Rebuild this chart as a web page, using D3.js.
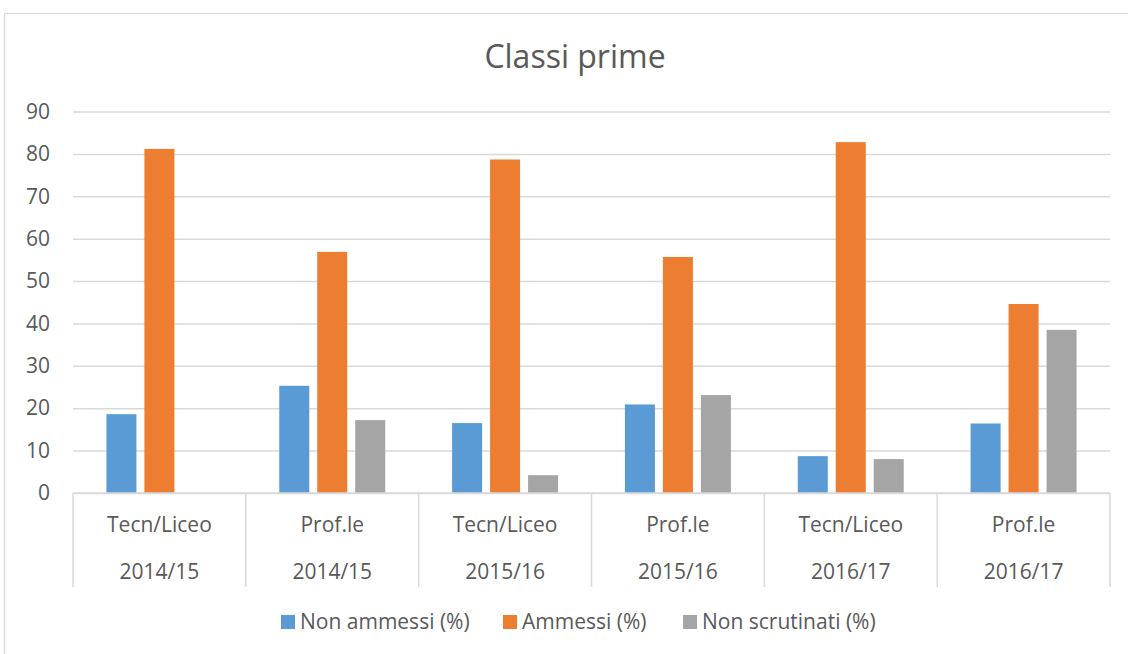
<!DOCTYPE html>
<html>
<head>
<meta charset="utf-8">
<script src="https://cdn.jsdelivr.net/npm/d3@7"></script>
<style>
  body { margin: 0; background: #fff; }
  text { font-family: "Open Sans", sans-serif; fill: #595959; }
</style>
</head>
<body>
<div id="chart"></div>
<script>
// categorie (due livelli)
var tipi = ["Tecn/Liceo", "Prof.le", "Tecn/Liceo", "Prof.le", "Tecn/Liceo", "Prof.le"];
var anni = ["2014/15", "2014/15", "2015/16", "2015/16", "2016/17", "2016/17"];

var serie = ["Non ammessi (%)", "Ammessi (%)", "Non scrutinati (%)"];
var nonAmmessi = [18.6, 25.3, 16.5, 20.9, 8.7, 16.4];
var ammessi = [81.2, 56.9, 78.7, 55.7, 82.8, 44.6];
var nonScrutinati = [0, 17.2, 4.2, 23.1, 8.0, 38.5];
var yTicks = [0, 10, 20, 30, 40, 50, 60, 70, 80, 90];

var colori = ["#5b9bd5", "#ed7d31", "#a5a5a5"];

var width = 1128, height = 654;
var plotLeft = 73, plotRight = 1110, plotTop = 111.6, plotBottom = 493;

var svg = d3.select("#chart").append("svg")
  .attr("width", width)
  .attr("height", height);

// bordo del grafico
svg.append("rect")
  .attr("x", 4.5).attr("y", 13.5)
  .attr("width", 1200).attr("height", 700)
  .attr("fill", "#fff")
  .attr("stroke", "#d9d9d9")
  .attr("stroke-width", 1.3);

svg.append("text")
  .attr("x", 575).attr("y", 68)
  .attr("text-anchor", "middle")
  .style("font-size", "32px")
  .text("Classi prime");

var idx = d3.range(tipi.length);
var x0 = d3.scaleBand().domain(idx).range([plotLeft, plotRight]);
var x1 = d3.scaleBand().domain(d3.range(serie.length))
  .range([0, x0.bandwidth()])
  .paddingInner(0.21)
  .paddingOuter(0.88);
var y = d3.scaleLinear().domain([0, 90]).range([plotBottom, plotTop]);

// griglia
var grid = svg.append("g")
  .attr("transform", "translate(" + plotLeft + ",0)")
  .call(d3.axisLeft(y).tickValues(yTicks).tickSize(-(plotRight - plotLeft)).tickFormat(""));
grid.select(".domain").remove();
grid.selectAll("line").attr("stroke", "#d9d9d9").attr("stroke-width", 1.5);

// etichette asse y
var ay = svg.append("g")
  .attr("transform", "translate(50,0)")
  .call(d3.axisLeft(y).tickValues(yTicks).tickSize(0).tickPadding(0));
ay.select(".domain").remove();
ay.selectAll("text")
  .attr("fill", "#595959")
  .style("font-family", "'Open Sans', sans-serif")
  .style("font-size", "21px");

// barre
var valori = [nonAmmessi, ammessi, nonScrutinati];
var gruppi = svg.selectAll("g.gruppo")
  .data(idx)
  .enter().append("g")
  .attr("class", "gruppo")
  .attr("transform", function(i) { return "translate(" + x0(i) + ",0)"; });

gruppi.selectAll("rect")
  .data(function(i) { return valori.map(function(v, s) { return {s: s, v: v[i]}; }); })
  .enter().append("rect")
  .filter(function(d) { return d.v > 0; })
  .attr("x", function(d) { return x1(d.s); })
  .attr("y", function(d) { return y(d.v); })
  .attr("width", x1.bandwidth())
  .attr("height", function(d) { return y(0) - y(d.v); })
  .attr("fill", function(d) { return colori[d.s]; });

// asse x
svg.append("line")
  .attr("x1", plotLeft).attr("x2", plotRight)
  .attr("y1", plotBottom).attr("y2", plotBottom)
  .attr("stroke", "#d9d9d9").attr("stroke-width", 1.5);

var sep = idx.concat([idx.length]);
svg.selectAll("line.sep")
  .data(sep)
  .enter().append("line")
  .attr("class", "sep")
  .attr("x1", function(i) { return plotLeft + i * x0.step(); })
  .attr("x2", function(i) { return plotLeft + i * x0.step(); })
  .attr("y1", plotBottom).attr("y2", 587)
  .attr("stroke", "#d9d9d9").attr("stroke-width", 1.5);

svg.selectAll("text.tipo")
  .data(idx)
  .enter().append("text")
  .attr("class", "tipo")
  .attr("x", function(i) { return x0(i) + x0.bandwidth() / 2; })
  .attr("y", 532)
  .attr("text-anchor", "middle")
  .style("font-size", "21px")
  .text(function(i) { return tipi[i]; });

svg.selectAll("text.anno")
  .data(idx)
  .enter().append("text")
  .attr("class", "anno")
  .attr("x", function(i) { return x0(i) + x0.bandwidth() / 2; })
  .attr("y", 579)
  .attr("text-anchor", "middle")
  .style("font-size", "21px")
  .text(function(i) { return anni[i]; });

// legenda
var legX = [281, 503, 683];
var leg = svg.selectAll("g.leg")
  .data(serie)
  .enter().append("g")
  .attr("class", "leg")
  .attr("transform", function(d, i) { return "translate(" + legX[i] + ",615)"; });
leg.append("rect")
  .attr("width", 14).attr("height", 14)
  .attr("fill", function(d, i) { return colori[i]; });
leg.append("text")
  .attr("x", 19).attr("y", 13.5)
  .style("font-size", "21px")
  .text(function(d) { return d; });
</script>
</body>
</html>
